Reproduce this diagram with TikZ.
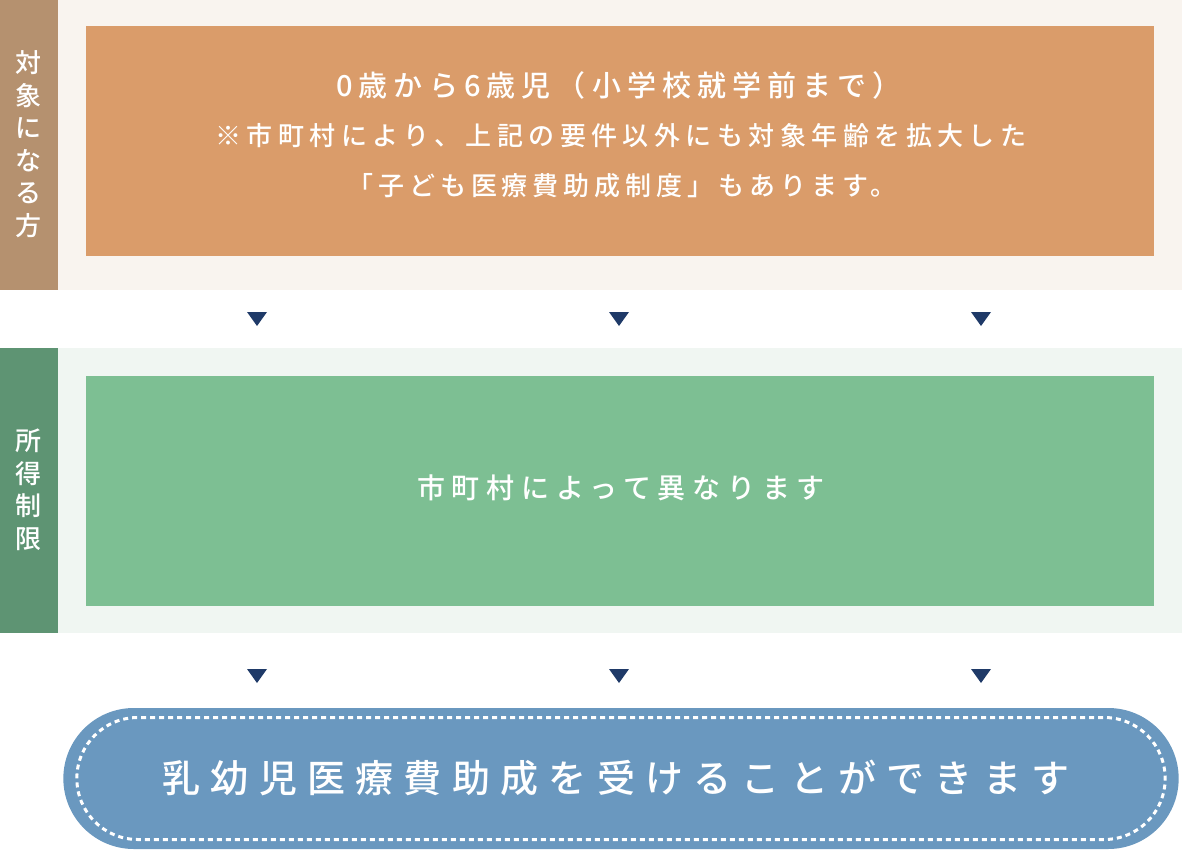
\documentclass[tikz,border=0pt]{standalone}
\usepackage{fontspec}
\setmainfont{Noto Sans CJK JP Medium}
\newfontfamily\jpspaced[LetterSpace=21]{Noto Sans CJK JP Medium}
\newfontfamily\jpnote[LetterSpace=19]{Noto Sans CJK JP Medium}
\newfontfamily\jptight[LetterSpace=24]{Noto Sans CJK JP Medium}
\newfontfamily\jpwide[LetterSpace=27]{Noto Sans CJK JP Medium}
\usetikzlibrary{shapes.misc}

\definecolor{labelbrown}{HTML}{B5916F}
\definecolor{panelcream}{HTML}{F9F4EF}
\definecolor{boxorange}{HTML}{DA9C6A}
\definecolor{labelgreen}{HTML}{5E9473}
\definecolor{panelmint}{HTML}{F0F6F2}
\definecolor{boxgreen}{HTML}{7DBF93}
\definecolor{pillblue}{HTML}{6A98BF}
\definecolor{marknavy}{HTML}{1F3A68}

\tikzset{
  sidelabel/.style={text=white, align=center, inner sep=0pt,
    font=\fontsize{26}{32.5}\selectfont},
  boxtext/.style={text=white, inner sep=0pt},
  downmark/.style={fill=marknavy},
}

\begin{document}
\begin{tikzpicture}[x=1pt, y=-1pt]
  \useasboundingbox (0,0) rectangle (1182,850);

  % 対象になる方
  \fill[labelbrown] (0,0) rectangle (58,290);
  \fill[panelcream] (58,0) rectangle (1182,290);
  \fill[boxorange] (86,26) rectangle (1154,256);
  \node[sidelabel] (target) at (29,144) {対\\象\\に\\な\\る\\方};
  \node[boxtext, font=\jpspaced\fontsize{29}{30}\selectfont] (age) at (619,85) {0歳から6歳児（小学校就学前まで）};
  \node[boxtext, font=\jpspaced\fontsize{26}{30}\selectfont] (note) at (621,136) {※市町村により、上記の要件以外にも対象年齢を拡大した};
  \node[boxtext, font=\jpnote\fontsize{26}{30}\selectfont] (system) at (622,186) {「子ども医療費助成制度」もあります。};

  % 三角
  \foreach \x in {257,619,981} {
    \fill[downmark] (\x-10,312) -- (\x+10,312) -- (\x,326) -- cycle;
    \fill[downmark] (\x-10,669) -- (\x+10,669) -- (\x,683) -- cycle;
  }

  % 所得制限
  \fill[labelgreen] (0,348) rectangle (58,633);
  \fill[panelmint] (58,348) rectangle (1182,633);
  \fill[boxgreen] (86,376) rectangle (1154,606);
  \node[sidelabel] (income) at (29,490) {所\\得\\制\\限};
  \node[boxtext, font=\jptight\fontsize{28}{30}\selectfont] (differ) at (621,488) {市町村によって異なります};

  % 結果
  \node[rounded rectangle, fill=pillblue, minimum width=1122pt, minimum height=141pt] (pill) at (621,778.5) {};
  \node[rounded rectangle, draw=white, line width=3pt, dash pattern=on 5pt off 4pt,
    minimum width=1095pt, minimum height=122pt] (stitch) at (pill.center) {};
  \node[boxtext, font=\jpwide\fontsize{38}{40}\selectfont] (result) at (616,778) {乳幼児医療費助成を受けることができます};
\end{tikzpicture}
\end{document}
